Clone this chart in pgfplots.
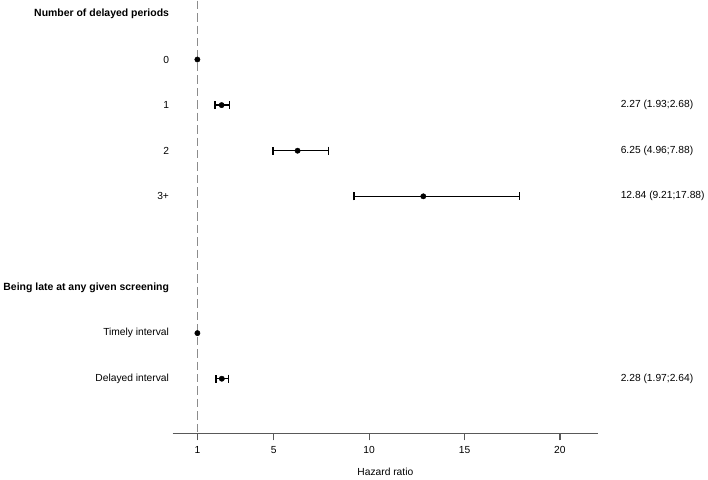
\documentclass[border=0pt]{standalone}
\usepackage{pgfplots}
\pgfplotsset{compat=1.18}
\usepackage{fontspec}
\setmainfont{Liberation Sans}
\newcommand{\hdr}[1]{{\fontsize{10.5bp}{12.6bp}\selectfont\bfseries #1}}
\begin{document}
\fontsize{10.3bp}{12.4bp}\selectfont
\begin{tikzpicture}
\begin{axis}[
  scale only axis, width=427.4bp, height=434.7bp,
  xmin=-0.3, xmax=22, ymin=-9.2, ymax=0.29,
  axis x line*=bottom, axis y line*=left,
  y axis line style={draw=none},
  x axis line style={draw=black!65, line width=1.5bp},
  xtick={1,5,10,15,20},
  x tick style={draw=black!65, line width=1.2bp},
  tick align=outside, major tick length=7bp,
  ytick={0,-1,-2,-3,-4,-6,-7,-8},
  yticklabels={\hdr{Number of delayed periods},0,1,2,3+,\hdr{Being late at any given screening},Timely interval,Delayed interval},
  y tick style={draw=none},
  tick label style={font=\fontsize{10.3bp}{12.4bp}\selectfont},
  xticklabel style={yshift=-2bp},
  yticklabel style={xshift=7bp},
  label style={font=\fontsize{10.3bp}{12.4bp}\selectfont},
  xlabel style={at={(axis description cs:0.5,0)}, anchor=center, yshift=-39bp},
  /pgf/number format/assume math mode=true,
  xlabel={Hazard ratio},
  clip=false,
]
\addplot[black!45, line width=1.4bp, dash pattern=on 8.5bp off 4bp] coordinates {(1,0.29) (1,-9.2)};
\addplot[black, only marks, mark=*, mark size=2.7bp,
  error bars/.cd, x dir=both, x explicit, error mark=|,
  error bar style={line width=1.3bp, black},
  error mark options={black, mark size=4bp, line width=1.3bp}]
  table[x=hr, y=pos, x error plus=ep, x error minus=em] {
hr pos ep em
2.27 -2 0.41 0.34
6.25 -3 1.63 1.29
12.84 -4 5.04 3.63
2.28 -8 0.36 0.31
};
\addplot[black, only marks, mark=*, mark size=2.7bp] coordinates {(1,-1) (1,-7)};
\node[anchor=west] at (axis cs:23,-2) {2.27 (1.93;2.68)};
\node[anchor=west] at (axis cs:23,-3) {6.25 (4.96;7.88)};
\node[anchor=west] at (axis cs:23,-4) {12.84 (9.21;17.88)};
\node[anchor=west] at (axis cs:23,-8) {2.28 (1.97;2.64)};
\end{axis}
\path[use as bounding box] ([xshift=-173.3bp,yshift=-44.3bp]current axis.south west) rectangle ([xshift=107.3bp]current axis.north east);
\end{tikzpicture}
\end{document}
